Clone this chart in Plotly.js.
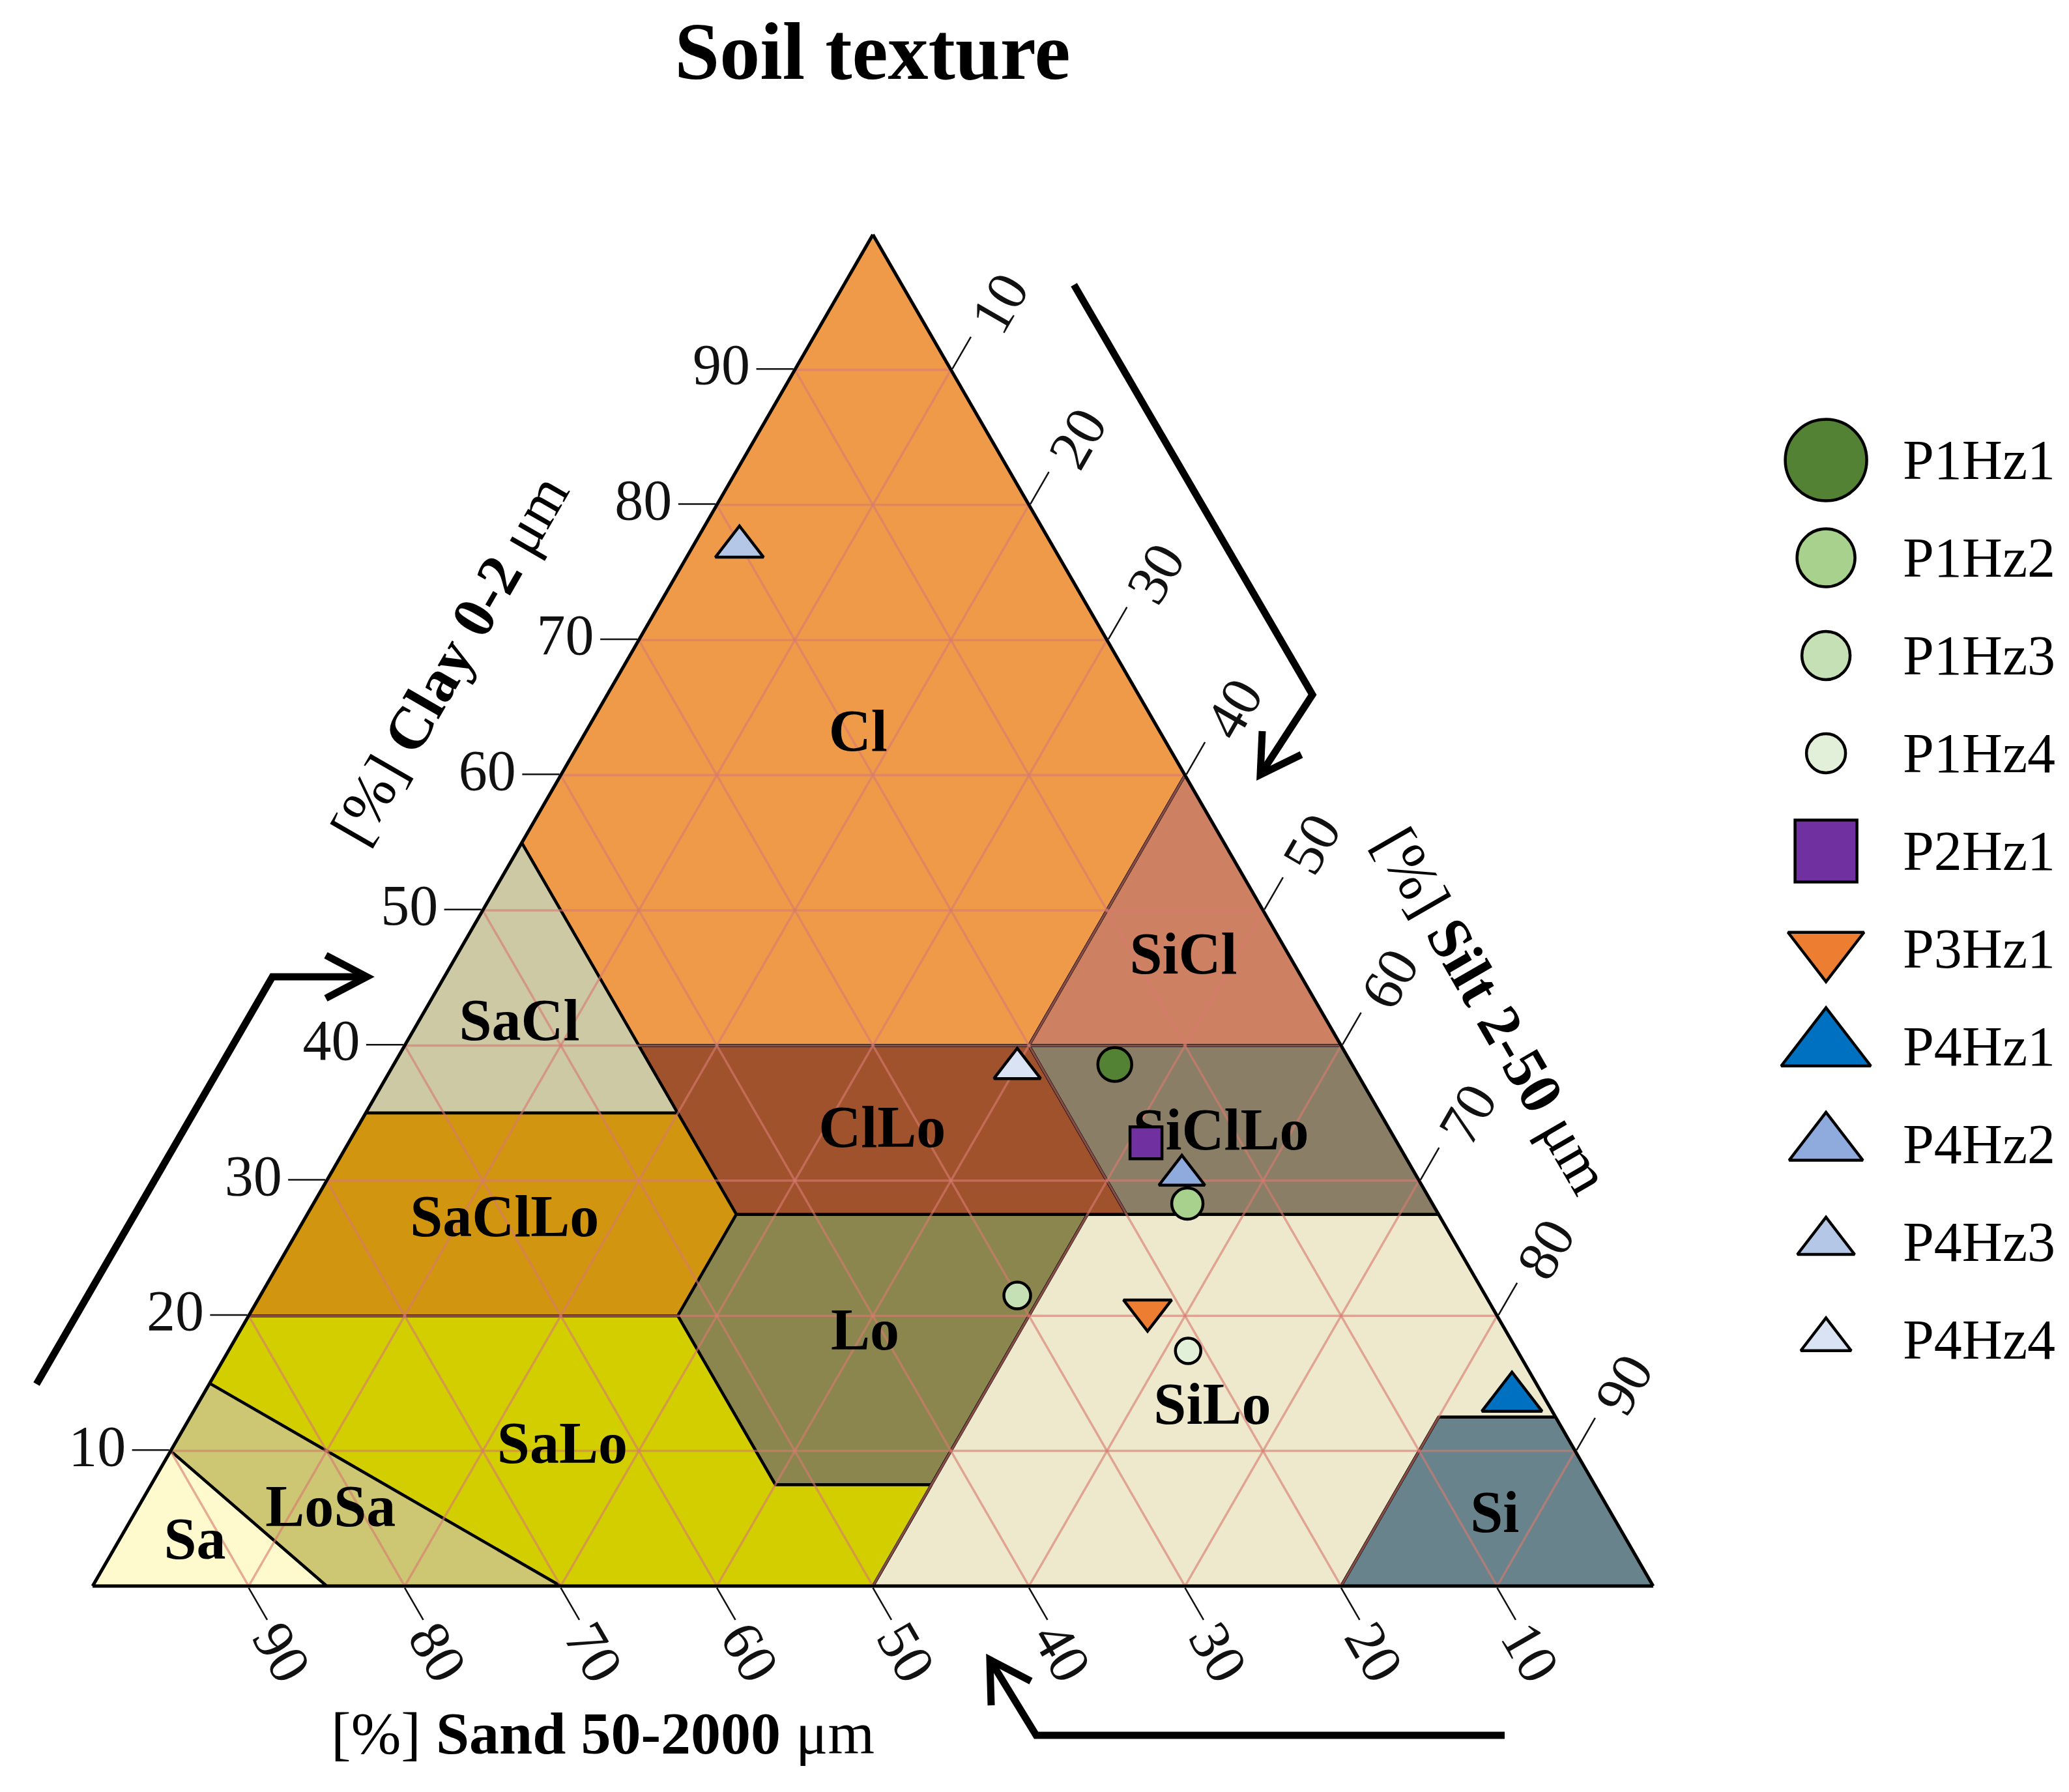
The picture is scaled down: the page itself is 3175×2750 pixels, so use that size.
<!DOCTYPE html>
<html lang="en">
<head>
<meta charset="UTF-8">
<title>Soil texture</title>
<script src="https://cdn.plot.ly/plotly-3.0.1.min.js"></script>
<style>
  body { margin: 0; background: #fff; }
  #chart { width: 3175px; height: 2750px; }
</style>
</head>
<body>
<div id="chart"></div>
<script>
const W = 3175, H = 2750;

// samples (percent)
const sampleNames = ['P1Hz1', 'P1Hz2', 'P1Hz3', 'P1Hz4', 'P2Hz1', 'P3Hz1', 'P4Hz1', 'P4Hz2', 'P4Hz3', 'P4Hz4'];
const sampleClay = [38.6, 28.3, 21.5, 17.4, 32.8, 20.4, 13.9, 30.4, 76.9, 38.3];
const sampleSilt = [46.2, 56.0, 48.5, 61.5, 51.1, 57.4, 84.0, 54.6, 3.0, 40.1];
const sampleSand = [15.2, 15.7, 30.0, 21.1, 16.1, 22.2, 2.1, 15.0, 20.1, 21.6];

// texture classes: corner points as clay / silt, sand is the rest
const regionNames = ['Cl', 'SiCl', 'SaCl', 'ClLo', 'SiClLo', 'SaClLo', 'Lo', 'SiLo', 'SaLo', 'LoSa', 'Sa', 'Si'];
const regionClay = [
  [100, 55, 40, 40, 60],
  [60, 40, 40],
  [55, 35, 35],
  [40, 40, 27.5, 27.5, 35],
  [40, 40, 27.5, 27.5],
  [35, 35, 27.5, 20, 20],
  [27.5, 27.5, 7.5, 7.5, 20],
  [27.5, 27.5, 12.5, 12.5, 0, 0, 7.5],
  [20, 20, 7.5, 7.5, 0, 0, 15],
  [15, 0, 0, 10],
  [10, 0, 0],
  [12.5, 12.5, 0, 0]
];
const regionSilt = [
  [0, 0, 15, 40, 40],
  [40, 60, 40],
  [0, 20, 0],
  [15, 40, 52.5, 27.5, 20],
  [40, 60, 72.5, 52.5],
  [0, 20, 27.5, 27.5, 0],
  [27.5, 50, 50, 40, 27.5],
  [50, 72.5, 87.5, 80, 80, 50, 50],
  [0, 27.5, 40, 50, 50, 30, 0],
  [0, 30, 15, 0],
  [0, 15, 0],
  [80, 87.5, 100, 80]
];
// where the class names sit
const labelClay = [62.9, 46.4, 41.5, 33.6, 33.4, 27.0, 18.6, 13.1, 10.2, 5.5, 3.1, 5.1];
const labelSilt = [17.6, 46.7, 6.6, 33.8, 55.6, 12.9, 40.2, 65.2, 25.0, 12.5, 5.0, 87.3];

const tickValues = [10, 20, 30, 40, 50, 60, 70, 80, 90];

// styles
const regionColors = ['#EE9A49', '#CD8162', '#CDC9A5', '#A0522D', '#8B7E66', '#D1950F',
  '#8B864E', '#EEE8CD', '#D2CE00', '#CDC673', '#FFFACD', '#68838B'];
const sampleSymbols = ['circle', 'circle', 'circle', 'circle', 'square', 'triangle-down',
  'triangle-up', 'triangle-up', 'triangle-up', 'triangle-up'];
const sampleColors = ['#548235', '#A9D18E', '#C5E0B4', '#E2F0D9', '#7030A0', '#ED7D31',
  '#0070C0', '#8FAADC', '#B4C7E7', '#DAE3F3'];
const plotSizes = [52, 48, 41, 39, 49, 64, 80, 61, 64, 62];
const legendSizes = [125, 89, 74, 60, 95, 101, 119, 98, 76, 67];

const serif = 'Liberation Serif, Times New Roman, serif';
const rest = (c, s) => c.map((v, i) => Math.round((100 - v - s[i]) * 100) / 100);
const closeRing = arr => arr.concat([arr[0]]);

// triangle box on the page (px)
const TRI_LEFT = 142, TRI_RIGHT = 2537, TRI_BOTTOM = 2434, TRI_TOP = 360;

const traces = [];

regionNames.forEach((name, i) => {
  const a = closeRing(regionClay[i]);
  const c = closeRing(regionSilt[i]);
  traces.push({
    type: 'scatterternary', mode: 'lines', fill: 'toself',
    a: a, b: rest(a, c), c: c,
    fillcolor: regionColors[i],
    line: { color: '#000', width: 4.5 },
    hoverinfo: 'skip', showlegend: false
  });
});

// the 10 % grid, drawn over the filled classes
const ga = [], gb = [], gc = [];
tickValues.forEach(v => {
  ga.push(v, v, null);           gb.push(100 - v, 0, null);     gc.push(0, 100 - v, null);
  ga.push(100 - v, 0, null);     gb.push(v, v, null);           gc.push(0, 100 - v, null);
  ga.push(100 - v, 0, null);     gb.push(0, 100 - v, null);     gc.push(v, v, null);
});
traces.push({
  type: 'scatterternary', mode: 'lines', a: ga, b: gb, c: gc,
  line: { color: 'rgba(214,122,112,0.62)', width: 3.5 },
  hoverinfo: 'skip', showlegend: false
});

traces.push({
  type: 'scatterternary', mode: 'text',
  a: labelClay, b: rest(labelClay, labelSilt), c: labelSilt,
  text: regionNames.map(n => '<b>' + n + '</b>'),
  textposition: 'middle center',
  textfont: { family: serif, size: 90, color: '#000' },
  hoverinfo: 'skip', showlegend: false
});

sampleNames.forEach((name, i) => {
  traces.push({
    type: 'scatterternary', mode: 'markers', name: name,
    a: [sampleClay[i]], b: [sampleSand[i]], c: [sampleSilt[i]],
    marker: { symbol: sampleSymbols[i], color: sampleColors[i], size: plotSizes[i],
      line: { color: '#000', width: 4.5 } },
    cliponaxis: false, showlegend: false
  });
});

// hand-made legend in its own little cartesian box
const LEG_MARK_X = 0.217, LEG_TEXT_X = 0.46;
const legendNotes = [];
sampleNames.forEach((name, i) => {
  traces.push({
    type: 'scatter', mode: 'markers', xaxis: 'x', yaxis: 'y',
    x: [LEG_MARK_X], y: [i],
    marker: { symbol: sampleSymbols[i], color: sampleColors[i], size: legendSizes[i],
      line: { color: '#000', width: 4.5 } },
    cliponaxis: false, hoverinfo: 'skip', showlegend: false
  });
  legendNotes.push({
    xref: 'x', yref: 'y', x: LEG_TEXT_X, y: i, text: name, showarrow: false,
    xanchor: 'left', yanchor: 'middle',
    font: { family: serif, size: 86, color: '#000' }
  });
});

const tickFont = { family: serif, size: 88, color: '#111' };
const axisCommon = {
  min: 0,
  tickmode: 'array', tickvals: tickValues, ticktext: tickValues.map(String),
  ticks: 'outside', ticklen: 57, tickwidth: 2.5, tickcolor: '#111',
  showline: true, linecolor: '#000', linewidth: 5,
  showgrid: false,
  tickfont: tickFont,
  title: { text: '' }
};

// sand labels run along their slanted ticks, so they are set by hand
const sandTickLabels = tickValues.map(v => {
  const baseX = TRI_LEFT + (TRI_RIGHT - TRI_LEFT) * (100 - v) / 100;
  return {
    xref: 'paper', yref: 'paper', showarrow: false,
    x: (baseX + 51) / W, y: 1 - (TRI_BOTTOM + 101) / H,
    xanchor: 'center', yanchor: 'middle', textangle: 60,
    text: String(v), font: tickFont
  };
});

const px = (x, y) => (x / W).toFixed(5) + ',' + (1 - y / H).toFixed(5);
const pathOf = pts => pts.map((p, i) => (i ? 'L' : 'M') + px(p[0], p[1])).join(' ');
const arrowLine = { color: '#000', width: 11 };
const arrows = [
  [[56, 2124], [418, 1499], [563, 1499]],
  [[500, 1466], [563, 1499], [500, 1532]],
  [[1648, 437], [2014, 1066], [1934, 1189]],
  [[1937, 1122], [1934, 1189], [1997, 1158]],
  [[2309, 2663], [1590, 2663], [1519, 2547]],
  [[1582, 2580], [1519, 2547], [1521, 2617]]
].map(pts => ({ type: 'path', xref: 'paper', yref: 'paper', path: pathOf(pts), line: arrowLine }));

const axisTitles = [
  { x: 690 / W, y: 1 - 1012 / H, textangle: -60, text: '[%] <b>Clay 0-2</b> μm' },
  { x: 2290 / W, y: 1 - 1550 / H, textangle: 60, text: '[%] <b>Silt 2-50</b> μm' },
  { x: 925 / W, y: 1 - 2660 / H, textangle: 0, text: '[%] <b>Sand 50-2000</b> μm' }
].map(t => Object.assign({
  xref: 'paper', yref: 'paper', showarrow: false, xanchor: 'center', yanchor: 'middle',
  font: { family: serif, size: 92, color: '#000' }
}, t));

const layout = {
  width: W, height: H,
  margin: { l: 0, r: 0, t: 0, b: 0 },
  paper_bgcolor: '#fff',
  showlegend: false,
  hovermode: false,
  title: {
    text: '<b>Soil texture</b>',
    font: { family: serif, size: 124, color: '#000' },
    x: 1339 / W, xanchor: 'center', xref: 'paper',
    y: 1 - 78 / H, yanchor: 'middle', yref: 'container'
  },
  ternary: {
    sum: 100,
    domain: { x: [TRI_LEFT / W, TRI_RIGHT / W], y: [1 - TRI_BOTTOM / H, 1 - TRI_TOP / H] },
    bgcolor: '#fff',
    aaxis: Object.assign({}, axisCommon, { tickangle: 0 }),
    baxis: Object.assign({}, axisCommon, { showticklabels: false }),
    caxis: Object.assign({}, axisCommon, { tickangle: -60 })
  },
  xaxis: { domain: [0.85, 1], range: [0, 1], visible: false, fixedrange: true },
  yaxis: { domain: [1 - 2131 / H, 1 - 631 / H], range: [9.5, -0.5], visible: false, fixedrange: true },
  shapes: arrows,
  annotations: axisTitles.concat(sandTickLabels, legendNotes)
};

Plotly.newPlot('chart', traces, layout, { staticPlot: true, displayModeBar: false });
</script>
</body>
</html>
